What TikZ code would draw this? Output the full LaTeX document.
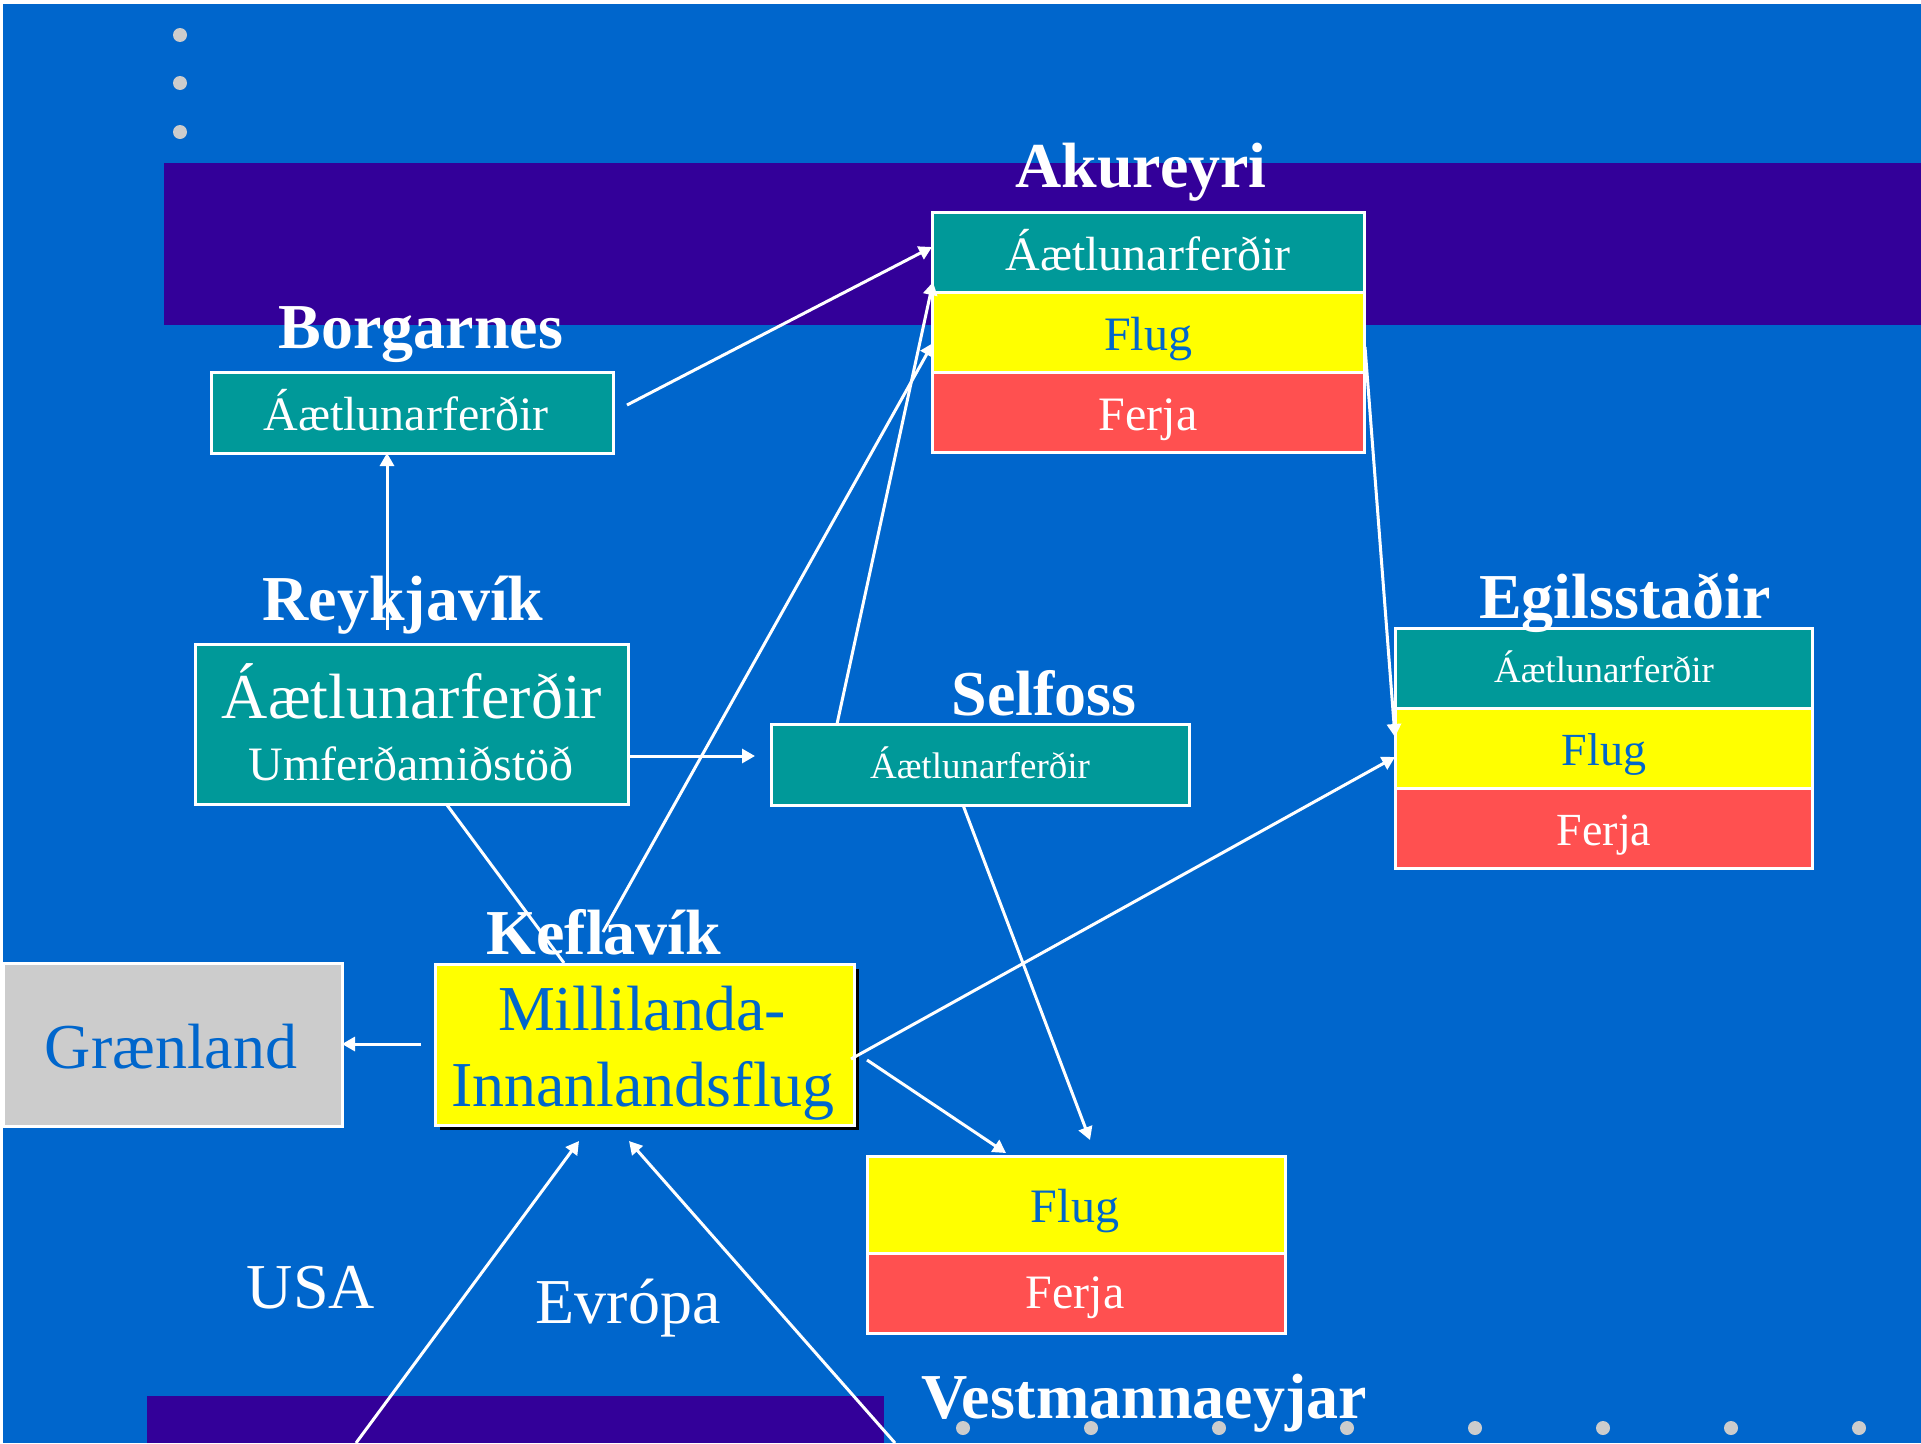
\documentclass[tikz,border=0pt]{standalone}
\usepackage{fontspec}
\setmainfont{Liberation Serif}
\usetikzlibrary{arrows.meta}
\definecolor{bgblue}{HTML}{0066CC}
\definecolor{band}{HTML}{330099}
\definecolor{tealc}{HTML}{009999}
\definecolor{yel}{HTML}{FFFF00}
\definecolor{redc}{HTML}{FF5050}
\definecolor{grayc}{HTML}{CCCCCC}
\newcommand{\fs}[1]{\fontsize{#1}{#1}\selectfont}
\tikzset{
  box/.style={draw=white, line width=3pt, inner sep=0pt, outer sep=0pt, anchor=north west},
  txt/.style={inner sep=0pt, anchor=base, text=white},
  title/.style={inner sep=0pt, anchor=base, text=white, font=\fs{64}\bfseries},
  arr/.style={draw=white, line width=3pt, -{Triangle[length=13pt,width=14pt]}},
  plainline/.style={draw=white, line width=3pt},
  dot/.style={fill=grayc}
}
\begin{document}
\begin{tikzpicture}[x=1pt,y=-1pt]
\useasboundingbox (0,0) rectangle (1921,1443);
\fill[white] (0,0) rectangle (1921,1443);
\fill[bgblue] (3,4) rectangle (1921,1443);
\fill[band] (164,163) rectangle (1921,325);
\fill[band] (147,1396) rectangle (884,1443);
% decorative dots
\foreach \yy in {35,83,132} \fill[dot] (180,\yy) circle[radius=7];
\foreach \xx in {963,1091,1219,1347,1475,1603,1731,1859} \fill[dot] (\xx,1428) circle[radius=7];

% Akureyri
\node[box, fill=tealc, minimum width=432pt, minimum height=80pt] (akA) at (932,212) {};
\node[box, fill=yel, minimum width=432pt, minimum height=80pt] (akF) at (932,292) {};
\node[box, fill=redc, minimum width=432pt, minimum height=80pt] (akR) at (932,372) {};
\node[title] (akT) at (1141,187) {Akureyri};
\node[txt, font=\fs{48}] (akAt) at (1148,270) {Áætlunarferðir};
\node[txt, font=\fs{48}, text=bgblue] (akFt) at (1148,350) {Flug};
\node[txt, font=\fs{48}] (akRt) at (1148,430) {Ferja};

% Borgarnes
\node[box, fill=tealc, minimum width=402pt, minimum height=81pt] (bo) at (211,372) {};
\node[title] (boT) at (421,348) {Borgarnes};
\node[txt, font=\fs{48}] (bot) at (406,430) {Áætlunarferðir};

% Reykjavik
\node[box, fill=tealc, minimum width=433pt, minimum height=160pt] (rv) at (195,644) {};
\node[title] (rvT) at (403,620) {Reykjavík};
\node[txt, font=\fs{64}] (rvt1) at (412,718) {Áætlunarferðir};
\node[txt, font=\fs{48}] (rvt2) at (411,780) {Umferðamiðstöð};

% Selfoss
\node[box, fill=tealc, minimum width=418pt, minimum height=81pt] (se) at (771,724) {};
\node[title] (seT) at (1044,715) {Selfoss};
\node[txt, font=\fs{37}] (set) at (980,778) {Áætlunarferðir};

% Egilsstadir
\node[box, fill=tealc, minimum width=417pt, minimum height=80pt] (egA) at (1395,628) {};
\node[box, fill=yel, minimum width=417pt, minimum height=80pt] (egF) at (1395,708) {};
\node[box, fill=redc, minimum width=417pt, minimum height=80pt] (egR) at (1395,788) {};
\node[title] (egT) at (1625,618) {Egilsstaðir};
\node[txt, font=\fs{37}] (egAt) at (1604,682) {Áætlunarferðir};
\node[txt, font=\fs{46}, text=bgblue] (egFt) at (1604,765) {Flug};
\node[txt, font=\fs{46}] (egRt) at (1604,845) {Ferja};

% Keflavik
\fill[black] (440,969) rectangle (859,1130);
\node[box, fill=yel, minimum width=419pt, minimum height=161pt] (kef) at (435,964) {};
\node[title] (kefT) at (604,954) {Keflavík};
\node[txt, font=\fs{64}, text=bgblue] (keft1) at (642,1030) {Millilanda-};
\node[txt, font=\fs{64}, text=bgblue] (keft2) at (643,1106) {Innanlandsflug};

% Graenland
\node[box, fill=grayc, minimum width=339pt, minimum height=163pt] (gr) at (3,963) {};
\node[txt, font=\fs{64}, text=bgblue] (grt) at (171,1068) {Grænland};

% Vestmannaeyjar
\node[box, fill=yel, minimum width=418pt, minimum height=97pt] (veF) at (867,1156) {};
\node[box, fill=redc, minimum width=418pt, minimum height=80pt] (veR) at (867,1253) {};
\node[txt, font=\fs{48}, text=bgblue] (veFt) at (1075,1222) {Flug};
\node[txt, font=\fs{48}] (veRt) at (1075,1308) {Ferja};
\node[title] (veT) at (1144,1418) {Vestmannaeyjar};

% USA / Evropa
\node[txt, font=\fs{64}] (usa) at (311,1308) {USA};
\node[txt, font=\fs{64}] (evr) at (628,1323) {Evrópa};

% connector end points
\coordinate (rvUp) at (387,630);
\coordinate (boIn) at (387,453);
\coordinate (boOut) at (627,405);
\coordinate (akAIn) at (932,247);
\coordinate (seOut) at (837,724);
\coordinate (akAIn2) at (933,282);
\coordinate (kefUp) at (603,932);
\coordinate (akFIn) at (933,343);
\coordinate (akOut) at (1365,347);
\coordinate (egFIn) at (1395,737);
\coordinate (kefRight) at (851,1059);
\coordinate (egFIn2) at (1395,757);
\coordinate (rvRight) at (628,756);
\coordinate (seIn) at (755,756);
\coordinate (rvDown) at (447,805);
\coordinate (kefTop) at (564,963);
\coordinate (kefLeft) at (421,1044);
\coordinate (grIn) at (342,1044);
\coordinate (kefRight2) at (867,1060);
\coordinate (veIn) at (1006,1153);
\coordinate (seDown) at (963,805);
\coordinate (veIn2) at (1090,1140);
\coordinate (usaStart) at (356,1443);
\coordinate (kefIn1) at (579,1141);
\coordinate (evrStart) at (895,1443);
\coordinate (kefIn2) at (629,1141);

% connectors
\draw[arr] (rvUp) -- (boIn);
\draw[arr] (boOut) -- (akAIn);
\draw[arr] (seOut) -- (akAIn2);
\draw[arr] (kefUp) -- (akFIn);
\draw[arr] (akOut) -- (egFIn);
\draw[arr] (kefRight) -- (egFIn2);
\draw[arr] (rvRight) -- (seIn);
\draw[plainline] (rvDown) -- (kefTop);
\draw[arr] (kefLeft) -- (grIn);
\draw[arr] (kefRight2) -- (veIn);
\draw[arr] (seDown) -- (veIn2);
\draw[arr] (usaStart) -- (kefIn1);
\draw[arr] (evrStart) -- (kefIn2);
\end{tikzpicture}
\end{document}
